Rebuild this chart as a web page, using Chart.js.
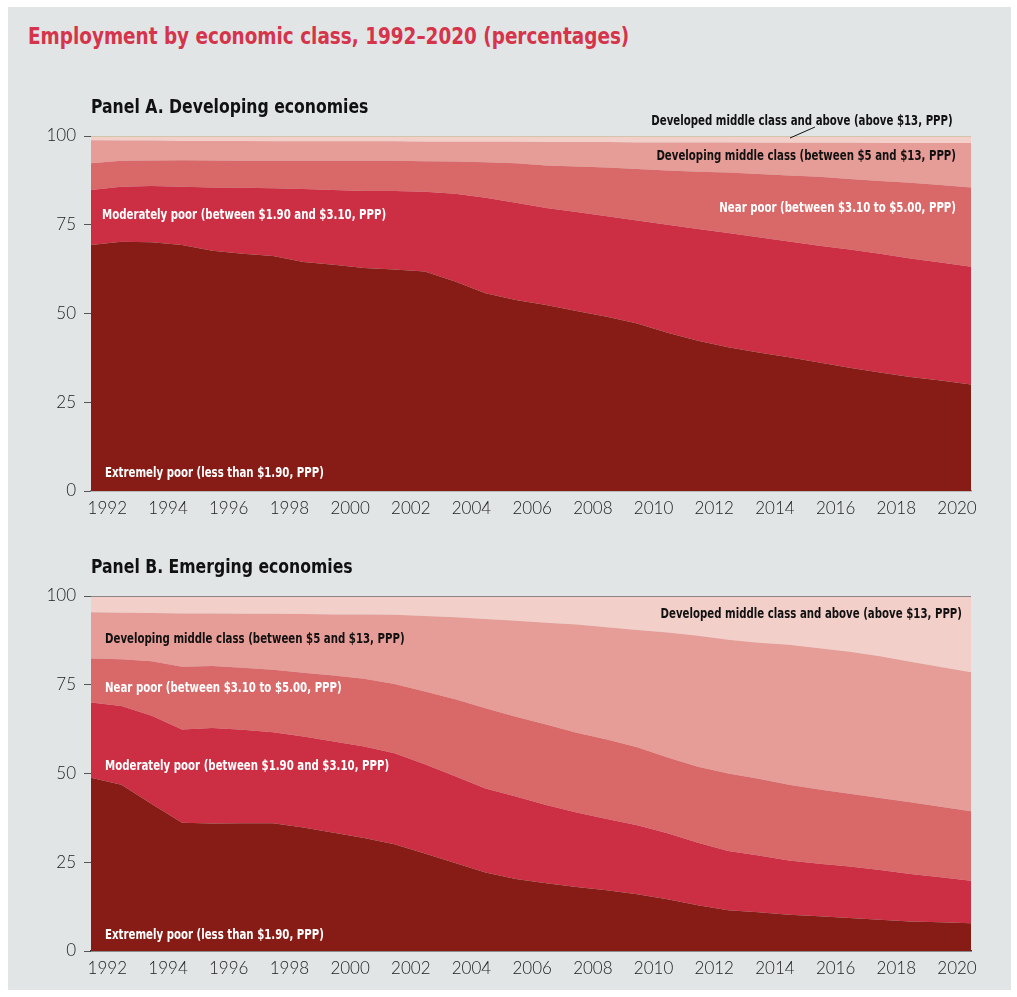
<!DOCTYPE html>
<html>
<head>
<meta charset="utf-8">
<script src="https://cdn.jsdelivr.net/npm/chart.js@4.4.0/dist/chart.umd.min.js"></script>
<style>
  html, body { margin: 0; padding: 0; background: #fff; overflow: hidden; }
  #frame { position: absolute; left: 8px; top: 7px; width: 1003px; height: 983px; background: #e1e5e6; }
  .narrow {
    position: absolute; margin: 0; white-space: nowrap; line-height: 1;
    font-family: "Liberation Sans Narrow", "DejaVu Sans Condensed", "Roboto", sans-serif;
    font-weight: bold; transform-origin: 0 50%;
  }
  #title { left: 28px; top: 25px; font-size: 23px; color: #d5344b; transform: scaleX(0.89); }
  .panel-title { left: 91px; font-size: 19px; color: #111; z-index: 2; transform: scaleX(0.917); }
  canvas { position: absolute; left: 0; }
</style>
</head>
<body>
<div id="frame"></div>
<h1 class="narrow" id="title">Employment by economic class, 1992–2020 (percentages)</h1>
<div class="narrow panel-title" style="top:97px">Panel A. Developing economies</div>
<div class="narrow panel-title" style="top:557px">Panel B. Emerging economies</div>
<canvas id="chartA" width="1017" height="440" style="top:100px"></canvas>
<canvas id="chartB" width="1017" height="430" style="top:560px"></canvas>

<script>
// ---- data (percent of employment) ----
const years = [1991, 1992, 1993, 1994, 1995, 1996, 1997, 1998, 1999, 2000,
               2001, 2002, 2003, 2004, 2005, 2006, 2007, 2008, 2009, 2010,
               2011, 2012, 2013, 2014, 2015, 2016, 2017, 2018, 2019, 2020];
const xTickLabels = [1992, 1994, 1996, 1998, 2000, 2002, 2004, 2006, 2008, 2010,
                     2012, 2014, 2016, 2018, 2020];
const yTickLabels = [0, 25, 50, 75, 100];

const classNames = [
    'Extremely poor (less than $1.90, PPP)',
    'Moderately poor (between $1.90 and $3.10, PPP)',
    'Near poor (between $3.10 to $5.00, PPP)',
    'Developing middle class (between $5 and $13, PPP)',
    'Developed middle class and above (above $13, PPP)'
];

// Panel A. Developing economies
const devExtremePoor = [69.3, 70.2, 70.1, 69.3, 67.7, 66.8, 66.2, 64.5, 63.7, 62.8,
                        62.4, 61.8, 59.0, 55.7, 53.8, 52.4, 50.7, 49.1, 47.2, 44.6,
                        42.3, 40.5, 39.0, 37.7, 36.2, 34.7, 33.4, 32.1, 31.1, 30.0];
const devModPoor     = [15.5, 15.5, 15.8, 16.4, 17.8, 18.6, 19.1, 20.6, 21.1, 21.7,
                        22.1, 22.5, 24.7, 26.9, 27.4, 27.3, 27.9, 28.3, 29.0, 30.4,
                        31.5, 32.2, 32.5, 32.6, 32.9, 33.3, 33.4, 33.4, 33.3, 33.2];
const devNearPoor    = [7.5, 7.3, 7.2, 7.5, 7.6, 7.6, 7.7, 7.9, 8.2, 8.5,
                        8.5, 8.6, 9.1, 10.0, 11.1, 12.0, 12.8, 13.7, 14.5, 15.3,
                        16.1, 17.0, 17.8, 18.6, 19.4, 19.9, 20.5, 21.3, 21.8, 22.3];
const devMiddle      = [6.5, 5.7, 5.6, 5.4, 5.5, 5.6, 5.5, 5.5, 5.5, 5.5,
                        5.5, 5.5, 5.6, 5.8, 6.1, 6.6, 6.9, 7.2, 7.5, 7.9,
                        8.3, 8.5, 8.8, 9.2, 9.6, 10.2, 10.7, 11.2, 11.8, 12.5];
const devDeveloped   = [1.2, 1.3, 1.3, 1.4, 1.4, 1.4, 1.5, 1.5, 1.5, 1.5,
                        1.5, 1.6, 1.6, 1.6, 1.6, 1.7, 1.7, 1.7, 1.8, 1.8,
                        1.8, 1.8, 1.9, 1.9, 1.9, 1.9, 2.0, 2.0, 2.0, 2.0];

// Panel B. Emerging economies
const emgExtremePoor = [48.8, 46.8, 41.4, 36.1, 35.9, 36.0, 36.0, 34.8, 33.3, 31.8,
                        30.1, 27.5, 24.8, 22.1, 20.3, 19.1, 18.0, 17.1, 16.0, 14.6,
                        12.9, 11.5, 10.9, 10.2, 9.8, 9.3, 8.8, 8.3, 8.1, 7.8];
const emgModPoor     = [21.2, 22.2, 24.9, 26.3, 26.9, 26.3, 25.6, 25.6, 25.7, 25.8,
                        25.6, 25.1, 24.4, 23.7, 23.2, 22.0, 21.0, 20.1, 19.4, 18.6,
                        17.6, 16.7, 16.0, 15.3, 14.8, 14.5, 14.0, 13.4, 12.7, 12.0];
const emgNearPoor    = [12.4, 13.2, 15.3, 17.7, 17.5, 17.5, 17.6, 18.0, 18.6, 19.1,
                        19.5, 20.5, 21.7, 22.6, 22.5, 22.7, 22.5, 22.4, 22.0, 21.3,
                        21.4, 21.8, 21.6, 21.3, 20.9, 20.5, 20.3, 20.2, 19.8, 19.6];
const emgMiddle      = [13.0, 13.1, 13.6, 15.0, 14.8, 15.2, 15.8, 16.5, 17.2, 18.1,
                        19.5, 21.3, 23.1, 25.1, 27.0, 28.7, 30.5, 31.6, 33.0, 35.2,
                        36.9, 37.7, 38.3, 39.5, 39.8, 40.0, 39.9, 39.6, 39.4, 39.1];
const emgDeveloped   = [4.6, 4.7, 4.8, 4.9, 4.9, 5.0, 5.0, 5.1, 5.2, 5.2,
                        5.3, 5.6, 6.0, 6.5, 7.0, 7.5, 8.0, 8.8, 9.6, 10.3,
                        11.2, 12.3, 13.2, 13.7, 14.7, 15.7, 17.0, 18.5, 20.0, 21.5];

// ---- styling ----
const classColors = ['#861c15', '#cc2e43', '#d96868', '#e69c97', '#f3cfc9'];
const NARROW = '"Liberation Sans Narrow", "DejaVu Sans Condensed", "Roboto", sans-serif';
const LABEL_SQUEEZE = 0.84;   // the original uses a condensed face

// Text labels drawn inside the plot
const annotationPlugin = {
    id: 'annotations',
    afterDraw(chart, args, opts) {
        const ctx = chart.ctx;
        ctx.save();
        ctx.font = 'bold 13.5px ' + NARROW;
        ctx.textBaseline = 'middle';
        opts.items.forEach(it => {
            ctx.save();
            ctx.translate(it.x, it.y);
            ctx.scale(LABEL_SQUEEZE, 1);
            ctx.fillStyle = it.color;
            ctx.textAlign = it.align;
            ctx.fillText(classNames[it.cls], 0, 0);
            ctx.restore();
        });
        if (opts.leader) {
            ctx.strokeStyle = '#111';
            ctx.lineWidth = 1;
            ctx.beginPath();
            ctx.moveTo(opts.leader[0], opts.leader[1]);
            ctx.lineTo(opts.leader[2], opts.leader[3]);
            ctx.stroke();
        }
        ctx.restore();
    }
};

function makeDatasets(series, topBorder) {
    return series.map((values, i) => ({
        label: classNames[i],
        data: values,
        backgroundColor: classColors[i],
        borderColor: i === series.length - 1 ? topBorder : 'rgba(0,0,0,0)',
        borderWidth: i === series.length - 1 ? 1.5 : 0,
        fill: i === 0 ? 'origin' : '-1',
        pointRadius: 0,
        tension: 0
    }));
}

function makeChart(canvasId, series, cfg) {
    const ctx = document.getElementById(canvasId).getContext('2d');
    return new Chart(ctx, {
        type: 'line',
        data: {
            labels: years,
            datasets: makeDatasets(series, cfg.topBorder)
        },
        options: {
            responsive: false,
            animation: false,
            layout: {
                autoPadding: false,
                padding: { left: 0, right: 46, top: 36, bottom: cfg.bottomPad }
            },
            plugins: {
                legend: { display: false },
                tooltip: { enabled: false },
                annotations: { items: cfg.labels, leader: cfg.leader }
            },
            scales: {
                x: {
                    type: 'linear',
                    min: 1991,
                    max: 2020,
                    afterBuildTicks: (axis) => { axis.ticks = xTickLabels.map(v => ({ value: v })); },
                    afterFit: (axis) => { axis.height = 30; },
                    grid: { display: false, drawTicks: false },
                    border: { display: true, color: cfg.axisColor, width: 1.5 },
                    ticks: {
                        padding: 7,
                        labelOffset: -14,
                        maxRotation: 0,
                        autoSkip: false,
                        color: '#222',
                        font: { family: 'Lato', size: 17, weight: '300' },
                        callback: (v) => String(v)
                    }
                },
                y: {
                    stacked: true,
                    min: 0,
                    max: 100,
                    afterBuildTicks: (axis) => { axis.ticks = yTickLabels.map(v => ({ value: v })); },
                    afterFit: (axis) => { axis.width = 91; },
                    grid: { drawOnChartArea: false, drawTicks: true, tickLength: 7, color: '#555', lineWidth: 1 },
                    border: { display: false },
                    ticks: {
                        padding: 8,
                        color: '#222',
                        font: { family: 'Lato', size: 17, weight: '300' }
                    }
                }
            }
        },
        plugins: [annotationPlugin]
    });
}

makeChart('chartA',
    [devExtremePoor, devModPoor, devNearPoor, devMiddle, devDeveloped],
    {
        topBorder: '#c9c29f',
        axisColor: '#8e8e8e',
        bottomPad: 19,
        leader: [790, 38, 815, 27],
        labels: [
            { cls: 4, x: 802, y: 21.5, align: 'center', color: '#111' },
            { cls: 3, x: 956, y: 56.5, align: 'right', color: '#111' },
            { cls: 2, x: 956, y: 108.5, align: 'right', color: '#fff' },
            { cls: 1, x: 102, y: 115, align: 'left', color: '#fff' },
            { cls: 0, x: 105, y: 373.5, align: 'left', color: '#fff' }
        ]
    });

makeChart('chartB',
    [emgExtremePoor, emgModPoor, emgNearPoor, emgMiddle, emgDeveloped],
    {
        topBorder: '#6b6b6b',
        axisColor: '#333',
        bottomPad: 9,
        leader: null,
        labels: [
            { cls: 4, x: 962, y: 54.5, align: 'right', color: '#111' },
            { cls: 3, x: 105, y: 79.5, align: 'left', color: '#111' },
            { cls: 2, x: 105, y: 128.5, align: 'left', color: '#fff' },
            { cls: 1, x: 105, y: 206, align: 'left', color: '#fff' },
            { cls: 0, x: 105, y: 375, align: 'left', color: '#fff' }
        ]
    });
</script>
</body>
</html>
